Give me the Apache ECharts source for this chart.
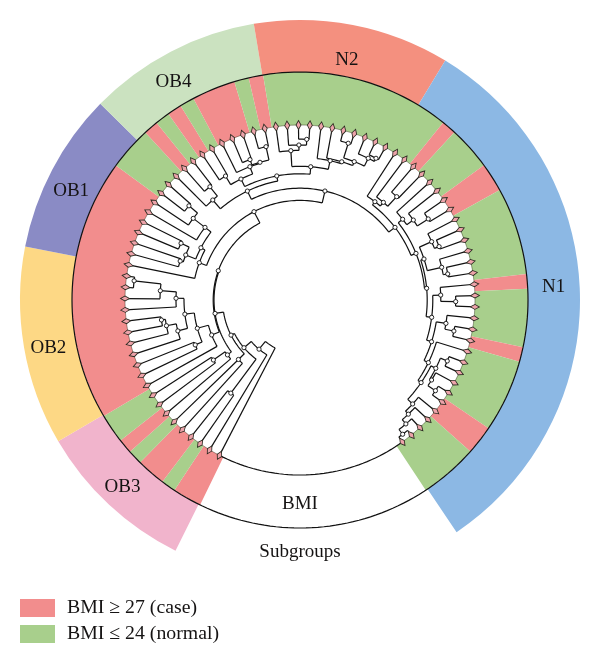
<!DOCTYPE html>
<html>
<head>
<meta charset="utf-8">
<script src="https://cdn.jsdelivr.net/npm/echarts@6/dist/echarts.min.js"></script>
<style>html,body{margin:0;padding:0;background:#fff}#c{width:600px;height:665px}</style>
</head>
<body>
<div id="c"></div>
<script>
// Subgroup ring: [name, angular span in degrees], clockwise from the BMI gap
const subgroupNames = ['OB3', 'OB2', 'OB1', 'OB4', 'N2', 'N1'];
const subgroupSpans = [33.3, 41.3, 33.5, 36, 40.75, 114.75];
const subgroupGap = 60.4;
const subgroupColors = ['#F1B4CC', '#FDD885', '#8A8BC5', '#CBE2C0', '#F4907F', '#8CB8E4'];

// BMI ring: alternating runs of leaves, starting with case
const caseName = 'BMI \u2265 27 (case)';
const normalName = 'BMI \u2264 24 (normal)';
const bmiRuns = [2, 1, 2, 1, 1, 2, 18, 3, 1, 1, 1, 1, 3, 1, 1, 13, 1, 3, 2, 6, 1, 4, 1, 5, 2, 4];

// Leaves, read around the ring
const leafCount = 81;
const firstLeafAngle = 207.4;
const leafStep = 3.71;

// Dendrogram clades: [radius, angle, childA, childB]; a plain number is a leaf index
const c16 = [124, 270.8, 16, [140, 273.8, 17, [167, 276.6, 18, 19]]];
const c12 = [126, 255.8, 12, [136, 259.1, 13, [140, 261.8, 14, 15]]];
const c9 = [95, 248.4, 9, [106.5, 254.6, [114, 246.8, 10, 11], [116, 263, c12, c16]]];
const c20 = [107.4, 290.3, 20, [112, 297.8,
  [122.8, 291.5, [126, 288, 21, 22], [131.8, 295.5, 23, 24]],
  [119.6, 307.4, 25, [134.4, 307.4, 26, [145.6, 310.3, 27, 28]]]]];
const c29 = [132.7, 318.9, 29, [144.7, 321.5, 30, 31]];
const c32 = [134.6, 334, [144.6, 329, 32, 33],
  [142.4, 339.4, 34, [143.4, 343.8, [149, 340.4, 35, 36], [157, 347.5, 37, 38]]]];
const c39 = [149.6, 356.5, 39, [155, 359.6, 40, [160.8, 2.4, 41, 42]]];
const c43 = [142.5, 12.2, 43, [144.4, 16.8, 44,
  [148.6, 21.4, [164, 17.1, 45, 46], [157.3, 25.7, 47, [160.8, 28.2, 48, 49]]]]];
const topClade = [121, 334.2, c29, [126.2, 349.4, c32, [133.7, 4.6, c39, c43]]];
const c50 = [123.6, 37.3, 50, [128.4, 40.5, 51, [141.5, 43.1, 52, 53]]];
const c54 = [130.6, 51.8, 54, [138.7, 54.8, 55, [151.7, 57.7, 56, 57]]];
const c58 = [130.6, 71.7, [144, 66.1, 58, [149, 69, 59, 60]], [145.4, 77, 61, [150, 80, 62, 63]]];
const c64 = [140.8, 88, 64, [155.7, 90.6, 65, 66]];
const c67 = [147.8, 99.1, 67, [157, 101.4, 68, 69]];
const c70 = [142.8, 116, 70, [146.6, 124.3,
  [152, 116.7, [159.4, 112.5, 71, 72], [154, 121.3, 73, [163, 123.8, 74, 75]]],
  [153.3, 132.7, 76, [157.4, 136.5, 77, [163, 139.5, 78, [169, 142.6, 79, 80]]]]]];
const rightClade = [119.6, 52.6, c50, [125, 68.1, c54, [127.2, 84.7, c58, [132.8, 97.5, c64, [138, 107.6, c67, c70]]]]];
const upperClade = [99.6, 332.5, c20, [111.8, 12.9, topClade, rightClade]];
const c4 = [85.6, 226, 4, 5];
const c6 = [91, 232.9, 6, [105.4, 235.3, 7, 8]];
const midClade = [86, 261, c6, [86.8, 289.7, c9, upperClade]];
const treeRoot = [54, 213.6, 0, [64, 219.8, 1, [73.6, 229.6, [116, 216.6, 2, 3], [77.4, 243, c4, midClade]]]];

// Ring labels: [radius, angle, text]
const ringLabels = [
  [254, 86.8, 'N1'], [246, 11, 'N2'], [253, 330, 'OB4'], [254, 295.7, 'OB1'],
  [256, 259.4, 'OB2'], [257, 223.7, 'OB3'], [203, 180, 'BMI'], [251, 180, 'Subgroups']
];

const R_LEAF = 175, R_MID = 228, R_OUT = 280;
const serif = '"Liberation Serif", serif';
const ink = '#151313';

const leafAngle = i => firstLeafAngle + i * leafStep;
const unwrap = a => (a < 200 ? a + 360 : a);
const segments = [];   // [r1, a1, r2, a2, kind]
const nodeDots = [];
const leafDots = [];

function childPos(c) {
  return typeof c === 'number' ? [R_LEAF, leafAngle(c)] : [c[0], unwrap(c[1])];
}
function walk(node, isRoot) {
  const r = node[0];
  const pa = childPos(node[2]);
  const pb = childPos(node[3]);
  segments.push([r, pa[1], r, pb[1], 0]);
  segments.push([r, pa[1], pa[0], pa[1], 0]);
  segments.push([r, pb[1], pb[0], pb[1], 0]);
  if (!isRoot) nodeDots.push([r, node[1]]);
  [node[2], node[3]].forEach(c => {
    if (typeof c === 'number') leafDots.push([R_LEAF, leafAngle(c) % 360]);
    else walk(c, false);
  });
}
walk(treeRoot, true);
// the ring circle, the arc that closes the gap, and the faint line along the leaves
segments.push([R_MID, 0, R_MID, 360, 0]);
segments.push([R_LEAF, leafAngle(leafCount - 1), R_LEAF, firstLeafAngle + 360, 0]);
segments.push([R_LEAF, firstLeafAngle, R_LEAF, leafAngle(leafCount - 1), 1]);

const bandStart = 206;
const ringStart = 206.4;
const bandData = bmiRuns.map((n, i) => ({
  name: i % 2 === 0 ? caseName : normalName,
  value: n * leafStep,
  itemStyle: { color: i % 2 === 0 ? '#F28D8D' : '#A8CF8C' }
}));
bandData.push({ name: 'gap', value: 360 - leafCount * leafStep, itemStyle: { color: 'rgba(0,0,0,0)' } });

const ringData = subgroupNames.map((n, i) => ({
  name: n, value: subgroupSpans[i], itemStyle: { color: subgroupColors[i] }
}));
ringData.push({ name: 'gap2', value: subgroupGap, itemStyle: { color: 'rgba(0,0,0,0)' } });

function renderSegment(params, api) {
  const r1 = api.value(0), a1 = api.value(1), r2 = api.value(2), a2 = api.value(3);
  const faint = api.value(4) === 1;
  const pts = [];
  const steps = a1 === a2 ? 1 : Math.max(1, Math.ceil(Math.abs(a2 - a1) / 1.5));
  for (let k = 0; k <= steps; k++) {
    const t = k / steps;
    const a = a1 + (a2 - a1) * t;
    pts.push(api.coord([r1 + (r2 - r1) * t, a % 360]));
  }
  return {
    type: 'polyline',
    shape: { points: pts },
    style: {
      fill: null,
      stroke: faint ? 'rgba(50,50,30,0.55)' : '#111',
      lineWidth: faint ? 0.8 : 1.2,
      lineJoin: 'round'
    },
    silent: true
  };
}

const chart = echarts.init(document.getElementById('c'), null, { renderer: 'canvas' });
chart.setOption({
  animation: false,
  backgroundColor: '#fff',
  polar: { center: [300, 300], radius: [0, R_OUT] },
  angleAxis: { type: 'value', min: 0, max: 360, startAngle: 90, clockwise: true, show: false },
  radiusAxis: { type: 'value', min: 0, max: R_OUT, show: false },
  legend: {
    left: 20, top: 598, padding: 0, orient: 'vertical', itemWidth: 35, itemHeight: 18, itemGap: 6,
    icon: 'rect', selectedMode: false, data: [caseName, normalName],
    textStyle: { fontFamily: serif, fontSize: 19.8, color: ink, padding: [0, 0, 0, 7] }
  },
  tooltip: { show: false },
  series: [
    {
      type: 'pie', center: [300, 300], radius: [R_MID, R_OUT], startAngle: 90 - ringStart + 360,
      clockwise: true, silent: true, label: { show: false }, labelLine: { show: false },
      data: ringData, z: 1, legendHoverLink: false, emphasis: { disabled: true }
    },
    {
      type: 'pie', center: [300, 300], radius: [R_LEAF, R_MID], startAngle: 90 - bandStart + 360,
      clockwise: true, silent: true, label: { show: false }, labelLine: { show: false },
      data: bandData, z: 1, legendHoverLink: false, emphasis: { disabled: true }
    },
    {
      type: 'custom', coordinateSystem: 'polar', renderItem: renderSegment, clip: false,
      encode: { radius: 0, angle: 1 }, data: segments, silent: true, z: 2
    },
    {
      type: 'scatter', coordinateSystem: 'polar', silent: true, z: 3, clip: false,
      data: leafDots.map(d => ({ value: d, symbolRotate: -d[1] })),
      symbol: 'diamond', symbolSize: [5, 9],
      itemStyle: { color: '#EDA3AA', borderColor: '#2a2a20', borderWidth: 0.9, opacity: 1 }
    },
    {
      type: 'scatter', coordinateSystem: 'polar', silent: true, z: 4, clip: false,
      data: nodeDots.map(d => [d[0], d[1]]),
      symbol: 'circle', symbolSize: 4.2,
      itemStyle: { color: '#fff', borderColor: '#111', borderWidth: 0.9, opacity: 1 }
    },
    {
      type: 'scatter', coordinateSystem: 'polar', silent: true, z: 5, clip: false,
      symbolSize: 0, itemStyle: { opacity: 1 },
      data: ringLabels.map(l => ({ value: [l[0], l[1]], name: l[2] })),
      label: {
        show: true, position: 'inside', formatter: p => p.name, offset: [0, 1], opacity: 1,
        fontFamily: serif, fontSize: 19, color: ink
      }
    }
  ]
});
</script>
</body>
</html>
